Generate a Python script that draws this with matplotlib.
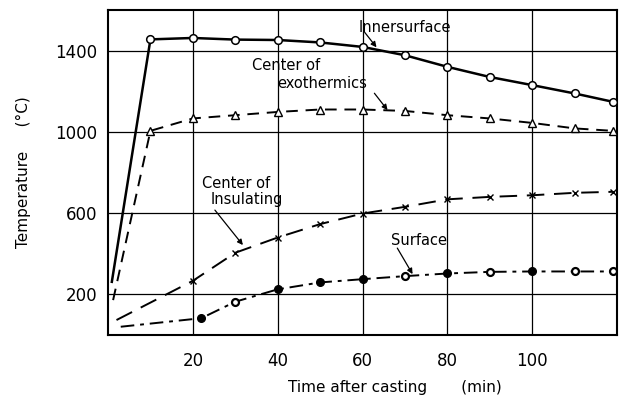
import matplotlib.pyplot as plt

plt.rcParams['font.family'] = ['DejaVu Sans']

# Innersurface (open circles, solid)
inner_t = [0.9, 10, 20, 30, 40, 50, 60, 70, 80, 90, 100, 110, 119]
inner_T = [262, 1455, 1462, 1454, 1452, 1440, 1418, 1377, 1320, 1270, 1230, 1189, 1148]
inner_mk = list(range(1, 13))

# Center of exothermics (open triangles, dashed)
exo_t = [1.2, 10, 20, 30, 40, 50, 60, 70, 80, 90, 100, 110, 119]
exo_T = [172, 1005, 1066, 1082, 1098, 1110, 1110, 1103, 1082, 1066, 1044, 1017, 1005]
exo_mk = list(range(1, 13))

# Center of insulating (x, long dashes)
ins_t = [2, 20, 30, 40, 50, 60, 70, 80, 90, 100, 110, 119]
ins_T = [74, 267, 405, 480, 546, 598, 631, 668, 680, 688, 700, 705]
ins_mk = list(range(1, 12))

# Surface (dots, dash-dot)
sur_t = [3, 22, 30, 40, 50, 60, 70, 80, 90, 100, 110, 119]
sur_T = [41, 83, 164, 225, 259, 275, 290, 303, 311, 313, 313, 313]
sur_filled = [1, 3, 4, 5, 7, 9]
sur_ring = [2, 6, 8, 10, 11]

fig = plt.figure(figsize=(6.19, 3.97), dpi=100)
ax = fig.add_axes([0.1745, 0.156, 0.8223, 0.819])

ax.plot(inner_t, inner_T, '-', color='black', lw=1.8, marker='o', ms=5.5,
        mfc='white', mec='black', mew=1.1, markevery=inner_mk, zorder=4)
ax.plot(exo_t, exo_T, color='black', lw=1.4, ls=(0, (6, 4)), marker='^', ms=5.5,
        mfc='white', mec='black', mew=1.0, markevery=exo_mk, zorder=4)
ax.plot(ins_t, ins_T, color='black', lw=1.4, ls=(0, (9, 5)), marker='x', ms=5,
        mec='black', mew=1.0, markevery=ins_mk, zorder=4)
ax.plot(sur_t, sur_T, color='black', lw=1.4, ls=(0, (7, 3, 2, 3)), zorder=4)
ax.plot([sur_t[i] for i in sur_filled], [sur_T[i] for i in sur_filled], 'o',
        color='black', ms=5.5, zorder=5)
ax.plot([sur_t[i] for i in sur_ring], [sur_T[i] for i in sur_ring], 'o',
        mfc='white', mec='black', mew=1.6, ms=5, zorder=5)

ax.set_xlim(0, 120)
ax.set_ylim(0, 1600)
ax.set_xticks([20, 40, 60, 80, 100])
ax.set_yticks([200, 600, 1000, 1400])
ax.set_yticklabels(['200', '600', '1000', '1400'])
ax.tick_params(axis='both', length=0, labelsize=12)
ax.tick_params(axis='x', pad=12)
ax.tick_params(axis='y', pad=8)
ax.grid(True, color='black', lw=0.9)
for s in ax.spines.values():
    s.set_linewidth(1.5)

ax.set_ylabel('Temperature     (°C)', fontsize=11, labelpad=17)
ax.text(0.564, -0.16, 'Time after casting       (min)', transform=ax.transAxes,
        ha='center', va='center', fontsize=11)

arrow = dict(arrowstyle='-|>', color='black', lw=0.9, mutation_scale=8,
             shrinkA=0, shrinkB=0)
ax.text(69.9, 1515, 'Innersurface', ha='center', va='center', fontsize=10.5)
ax.annotate('', xy=(63.3, 1416), xytext=(60.5, 1490), arrowprops=arrow)
ax.text(42, 1328, 'Center of', ha='center', va='center', fontsize=10.5)
ax.text(50.5, 1240, 'exothermics', ha='center', va='center', fontsize=10.5)
ax.annotate('', xy=(65.9, 1107), xytext=(62.8, 1190), arrowprops=arrow)
ax.text(30.1, 748, 'Center of', ha='center', va='center', fontsize=10.5)
ax.text(32.7, 669, 'Insulating', ha='center', va='center', fontsize=10.5)
ax.annotate('', xy=(31.8, 443), xytext=(25.2, 615), arrowprops=arrow)
ax.text(73.2, 467, 'Surface', ha='center', va='center', fontsize=10.5)
ax.annotate('', xy=(71.8, 300), xytext=(68.2, 428), arrowprops=arrow)

fig.savefig('out.png', dpi=100)
